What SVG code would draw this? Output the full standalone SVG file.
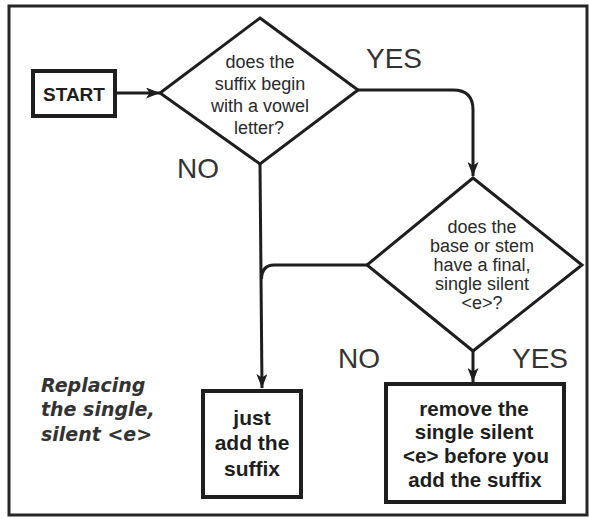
<svg xmlns="http://www.w3.org/2000/svg" width="589" height="519" viewBox="0 0 589 519">
<style>
.frame{fill:none;stroke:#262626;stroke-width:3}
.shape{fill:#fff;stroke:#1e1e1e;stroke-width:3}
.box{fill:#fff;stroke:#1e1e1e;stroke-width:4}
.conn{fill:none;stroke:#1e1e1e;stroke-width:3}
.q{font-family:"Liberation Sans",Arial,sans-serif;font-size:18px;fill:#2a2a2a;text-anchor:middle}
.b{font-family:"Liberation Sans",Arial,sans-serif;font-weight:bold;fill:#1e1e1e;text-anchor:middle}
.lbl{font-family:"Liberation Sans",Arial,sans-serif;font-size:28px;fill:#333}
.title{font-family:"DejaVu Sans",sans-serif;font-weight:bold;font-style:italic;font-size:19px;fill:#333}
</style>
<defs>
<marker id="arr" viewBox="0 0 14 11" refX="14" refY="5.5" markerWidth="14" markerHeight="11" markerUnits="userSpaceOnUse" orient="auto">
<path d="M0,0 L14,5.5 L0,11 L3.5,5.5 Z" fill="#1e1e1e"/>
</marker>
</defs>
<rect class="frame" x="9" y="6" width="578" height="509"/>
<g id="connectors">
<path class="conn" d="M115,93 H160" marker-end="url(#arr)"/>
<path class="conn" d="M358,90 H453 Q473,90 473,110 V176" marker-end="url(#arr)"/>
<path class="conn" d="M260,164 L262,388" marker-end="url(#arr)"/>
<path class="conn" d="M367,265 H274 Q262,265 261.5,279"/>
<path class="conn" d="M473,351 V382" marker-end="url(#arr)"/>
</g>
<g id="start">
<rect class="box" x="33" y="71" width="82" height="45"/>
<text class="b" x="74" y="101" font-size="19">START</text>
</g>
<g id="q1">
<polygon class="shape" points="260,18 358,90 260,164 160,93"/>
<text class="q" x="260" y="68">does the</text>
<text class="q" x="260" y="90">suffix begin</text>
<text class="q" x="260" y="112">with a vowel</text>
<text class="q" x="259" y="134">letter?</text>
</g>
<g id="q2">
<polygon class="shape" points="473,178 582,265 473,351 367,265"/>
<text class="q" x="482" y="233">does the</text>
<text class="q" x="482" y="252">base or stem</text>
<text class="q" x="482" y="271">have a final,</text>
<text class="q" x="482" y="290">single silent</text>
<text class="q" x="482" y="309">&lt;e&gt;?</text>
</g>
<g id="just-add">
<rect class="box" x="203" y="391" width="98" height="106"/>
<text class="b" x="252" y="425" font-size="21">just</text>
<text class="b" x="252" y="450" font-size="21">add the</text>
<text class="b" x="252" y="476" font-size="21">suffix</text>
</g>
<g id="remove">
<rect class="box" x="386" y="384" width="178" height="118"/>
<text class="b" x="474" y="416" font-size="20.5">remove the</text>
<text class="b" x="474" y="439" font-size="20.5">single silent</text>
<text class="b" x="476" y="463" font-size="20.5">&lt;e&gt; before you</text>
<text class="b" x="475" y="487" font-size="20.5">add the suffix</text>
</g>
<g id="labels">
<text class="lbl" x="366" y="68">YES</text>
<text class="lbl" x="177" y="178">NO</text>
<text class="lbl" x="338" y="368">NO</text>
<text class="lbl" x="512" y="368">YES</text>
</g>
<g id="caption">
<text class="title" x="41" y="392">Replacing</text>
<text class="title" x="41" y="416">the single,</text>
<text class="title" x="41" y="441">silent &lt;e&gt;</text>
</g>
</svg>
